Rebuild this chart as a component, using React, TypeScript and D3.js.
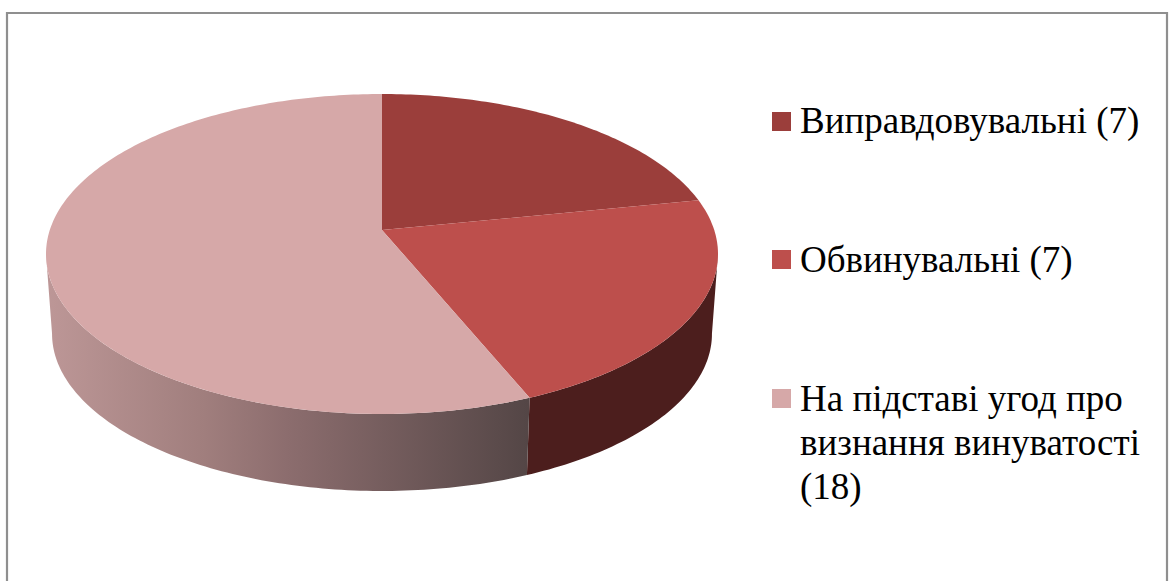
import React from "react";
import * as d3 from "d3";

const categories = ["Виправдовувальні (7)", "Обвинувальні (7)", "На підставі угод про визнання винуватості (18)"];
const seriesValues = [7, 7, 18];
const legendLines = [["Виправдовувальні (7)"], ["Обвинувальні (7)"], ["На підставі угод про", "визнання винуватості", "(18)"]];
const topColors = ["#9b3e3b", "#bd4f4c", "#d6a8a8"];
const sideColors = ["#5e2624", "#4c1e1d", "url(#rimShade)"];

const W = 1169;
const H = 581;

// Perspective projection of a unit disc: the apex is the disc centre, and the
// far edge is foreshortened relative to the near edge.
const apex = { x: 382, y: 230 };
const persp = 0.15;
const spanX = 332.2;
const spanY = 156.4;
const rimDrop = 80.3;
const rimScale = 0.982;

type Pt = [number, number];
const top = (a: number): Pt => {
  const u = Math.sin(a);
  const v = Math.cos(a);
  const d = 1 + persp * v;
  return [apex.x + (spanX * u) / d, apex.y - (spanY * v) / d];
};
const bottom = (a: number): Pt => {
  const [x, y] = top(a);
  return [apex.x + (x - apex.x) * rimScale, apex.y + rimDrop + (y - apex.y) * rimScale];
};

const arcs = d3.pie<number>().sort(null)(seriesValues);
const line = d3.line<Pt>();
const sample = (a0: number, a1: number, f: (a: number) => Pt): Pt[] => {
  const n = Math.max(2, Math.ceil(Math.abs(a1 - a0) * 60));
  return d3.range(n + 1).map((i) => f(a0 + ((a1 - a0) * i) / n));
};

// The wall is visible between the two horizontal extremes of the projected disc.
const wallFrom = Math.acos(-persp);
const wallTo = 2 * Math.PI - wallFrom;

export default function App() {
  const walls = arcs.map((s) => {
    const a0 = Math.max(s.startAngle, wallFrom);
    const a1 = Math.min(s.endAngle, wallTo);
    if (a1 <= a0) return null;
    return line([...sample(a0, a1, top), ...sample(a1, a0, bottom)]) + "Z";
  });
  const faces = arcs.map((s) => line([[apex.x, apex.y], ...sample(s.startAngle, s.endAngle, top)]) + "Z");
  const legendY = [132.5, 271.5, 410.5];
  const swatchY = [112, 250, 389];

  return (
    <svg
      width={W}
      height={H}
      viewBox={`0 0 ${W} ${H}`}
      style={{ position: "absolute", left: 0, top: 0, display: "block", background: "#fff" }}
    >
      <defs>
        <linearGradient id="rimShade" gradientUnits="userSpaceOnUse" x1={46} x2={528} y1={0} y2={0}>
          <stop offset="0" stopColor="#bd9797" />
          <stop offset="0.33" stopColor="#a07e7d" />
          <stop offset="0.5" stopColor="#8c6d6e" />
          <stop offset="1" stopColor="#544646" />
        </linearGradient>
      </defs>
      <path d={`M7 581V13H1167V581`} fill="none" stroke="#8f8f8f" strokeWidth={2.2} />
      {walls.map((d, i) => d && <path key={i} d={d} fill={sideColors[i]} />)}
      {faces.map((d, i) => <path key={i} d={d} fill={topColors[i]} />)}
      {categories.map((c, i) => (
        <g key={c}>
          <rect x={772} y={swatchY[i]} width={19} height={19} fill={topColors[i]} />
          <text
            x={800}
            y={legendY[i]}
            fontFamily="'Liberation Serif', serif"
            fontSize={37}
            fill="#000"
          >
            {legendLines[i].map((t, j) => (
              <tspan key={j} x={800} dy={j === 0 ? 0 : 44}>{t}</tspan>
            ))}
          </text>
        </g>
      ))}
    </svg>
  );
}
